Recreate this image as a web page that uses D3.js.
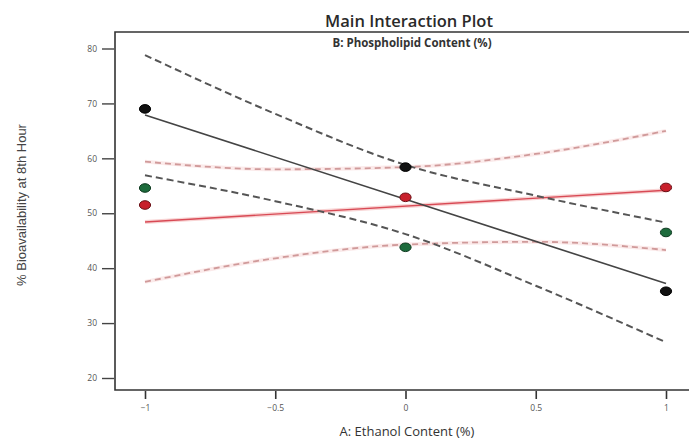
<!DOCTYPE html>
<html>
<head>
<meta charset="utf-8">
<script src="https://cdn.jsdelivr.net/npm/d3@7"></script>
<style>
  html, body { margin: 0; padding: 0; background: #fff; }
  svg { display: block; }
</style>
</head>
<body>
<svg id="chart" width="691" height="439"></svg>
<script>
// Factor A levels (coded) and B series
const ethanolLevels = [-1, 0, 1];
const xTicks = [-1, -0.5, 0, 0.5, 1];
const yTicks = [20, 30, 40, 50, 60, 70, 80];

// Observed design points at each ethanol level
const pointsLow = [69.0, 58.4, 35.8];     // B low (black)
const pointsMid = [54.6, 43.8, 46.5];     // centre points (green)
const pointsHigh = [51.5, 52.9, 54.7];    // B high (red)

// Fitted lines at A = -1 and A = 1
const fitLow = [67.9, 37.2];
const fitHigh = [48.4, 54.2];

// Confidence bands sampled at the x tick positions
const bandX = [-1, -0.5, 0, 0.5, 1];
const bandLowUpper = [78.8, 68.1, 58.8, 53.2, 48.3];
const bandLowLower = [56.9, 52.2, 46.2, 36.8, 26.5];
const bandHighUpper = [59.4, 58.0, 58.4, 60.8, 65.0];
const bandHighLower = [37.5, 41.8, 44.3, 44.8, 43.3];

const svg = d3.select("#chart");
const frame = { left: 115, top: 32, right: 689, bottom: 390 };

const x = d3.scaleLinear().domain([-1, 1]).range([145, 666]);
const y = d3.scaleLinear().domain([20, 80]).range([378, 48.5]);

// Titles
svg.append("text")
  .attr("x", 409).attr("y", 27)
  .attr("text-anchor", "middle")
  .style("font-family", "'Open Sans', sans-serif")
  .style("font-weight", 600)
  .style("font-size", "16.5px")
  .attr("fill", "#2a2a2a")
  .text("Main Interaction Plot");

svg.append("text")
  .attr("x", 412).attr("y", 47)
  .attr("text-anchor", "middle")
  .style("font-family", "'Open Sans', sans-serif")
  .style("font-weight", 700)
  .style("font-size", "11.5px")
  .attr("fill", "#333")
  .text("B: Phospholipid Content (%)");

// Plot frame (left, top, bottom)
svg.append("path")
  .attr("d", `M${frame.right},${frame.top}H${frame.left}V${frame.bottom}H${frame.right}`)
  .attr("fill", "none")
  .attr("stroke", "#333")
  .attr("stroke-width", 1.6);

// Y axis
const yAxis = d3.axisLeft(y).tickValues(yTicks).tickSize(12).tickPadding(5).tickFormat(d3.format("d"));
const gy = svg.append("g").attr("transform", `translate(${frame.left - 1},0)`).call(yAxis);
gy.select(".domain").remove();
gy.selectAll(".tick line").attr("stroke", "#444").attr("stroke-width", 1.4);
gy.selectAll(".tick text")
  .style("font-family", "'Open Sans', sans-serif")
  .style("font-size", "8.5px")
  .attr("fill", "#555");

// X axis
const xAxis = d3.axisBottom(x).tickValues(xTicks).tickSize(8).tickPadding(6).tickFormat(d => d3.format("")(d));
const gx = svg.append("g").attr("transform", `translate(0,${frame.bottom + 1})`).call(xAxis);
gx.select(".domain").remove();
gx.selectAll(".tick line").attr("stroke", "#333").attr("stroke-width", 1.6);
gx.selectAll(".tick text")
  .style("font-family", "'Open Sans', sans-serif")
  .style("font-size", "8.5px")
  .attr("fill", "#555");

// Axis titles
svg.append("text")
  .attr("x", 407).attr("y", 436)
  .attr("text-anchor", "middle")
  .style("font-family", "'Open Sans', sans-serif")
  .style("font-size", "13px")
  .attr("fill", "#333")
  .text("A: Ethanol Content (%)");

svg.append("text")
  .attr("transform", "translate(26,205) rotate(-90)")
  .attr("text-anchor", "middle")
  .style("font-family", "'Liberation Sans Narrow', 'Liberation Sans', sans-serif")
  .style("font-size", "13px")
  .attr("fill", "#444")
  .text("% Bioavailability at 8th Hour");

// Lines
const curve = d3.line().x(d => x(d[0])).y(d => y(d[1])).curve(d3.curveMonotoneX);
const zip = (xs, ys) => xs.map((v, i) => [v, ys[i]]);

const plot = svg.append("g");

// Red (B high) band and fit, with a soft pink halo
[bandHighUpper, bandHighLower].forEach(vals => {
  plot.append("path").attr("d", curve(zip(bandX, vals)))
    .attr("fill", "none").attr("stroke", "#fbeaea").attr("stroke-width", 4);
  plot.append("path").attr("d", curve(zip(bandX, vals)))
    .attr("fill", "none").attr("stroke", "#d09a9a").attr("stroke-width", 1.8)
    .attr("stroke-dasharray", "6,4");
});
plot.append("path").attr("d", curve(zip([-1, 1], fitHigh)))
  .attr("fill", "none").attr("stroke", "#f8d4d4").attr("stroke-width", 4);
plot.append("path").attr("d", curve(zip([-1, 1], fitHigh)))
  .attr("fill", "none").attr("stroke", "#d84a55").attr("stroke-width", 1.4);

// Black (B low) band and fit
[bandLowUpper, bandLowLower].forEach(vals => {
  plot.append("path").attr("d", curve(zip(bandX, vals)))
    .attr("fill", "none").attr("stroke", "#555").attr("stroke-width", 2)
    .attr("stroke-dasharray", "7,4");
});
plot.append("path").attr("d", curve(zip([-1, 1], fitLow)))
  .attr("fill", "none").attr("stroke", "#444").attr("stroke-width", 1.6);

// Design points
const series = [
  { vals: pointsLow, fill: "#111", stroke: "#000" },
  { vals: pointsMid, fill: "#1d6b3c", stroke: "#0e3a20" },
  { vals: pointsHigh, fill: "#c8202c", stroke: "#6a1016" }
];
series.forEach(s => {
  plot.selectAll(null).data(zip(ethanolLevels, s.vals)).enter()
    .append("ellipse")
    .attr("cx", d => x(d[0])).attr("cy", d => y(d[1]))
    .attr("rx", 5.6).attr("ry", 4.3)
    .attr("fill", s.fill).attr("stroke", s.stroke).attr("stroke-width", 1);
});
</script>
</body>
</html>
